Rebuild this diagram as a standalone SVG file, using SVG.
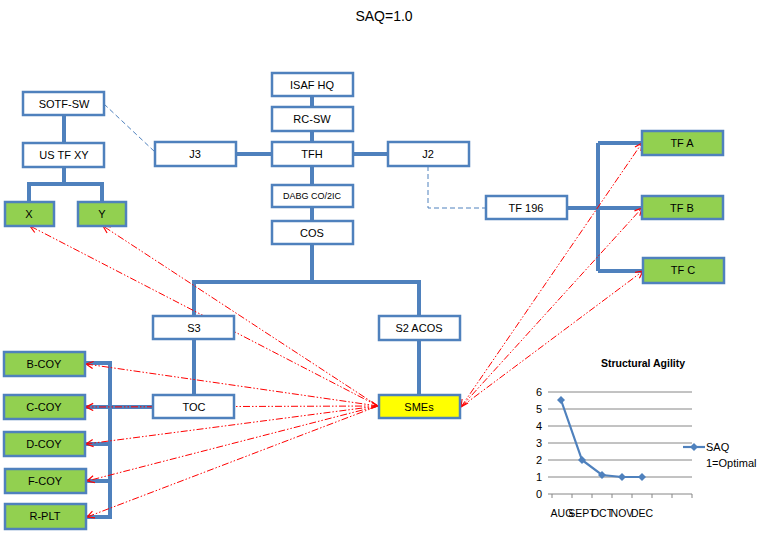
<svg xmlns="http://www.w3.org/2000/svg" width="769" height="534" viewBox="0 0 769 534">
<defs>
<marker id="ah" viewBox="0 0 10 10" refX="9" refY="5" markerWidth="9" markerHeight="9" orient="auto-start-reverse" markerUnits="userSpaceOnUse">
<path d="M1,1 L9,5 L1,9" fill="none" stroke="#FF0000" stroke-width="1.3"/>
</marker>
<marker id="dm" viewBox="0 0 10 10" refX="5" refY="5" markerWidth="8" markerHeight="8" markerUnits="userSpaceOnUse">
<path d="M5,0 L10,5 L5,10 L0,5 Z" fill="#4F81BD"/>
</marker>
<style>
.b{fill:#FFFFFF;stroke:#4F81BD;stroke-width:2.5}
.g{fill:#92D050;stroke:#4F81BD;stroke-width:2.5}
.y{fill:#FFFF00;stroke:#4F81BD;stroke-width:2.5}
.t{font-family:"Liberation Sans",Arial,sans-serif;font-size:11px;fill:#000;text-anchor:middle}
.s{font-size:9px}
.c{fill:none;stroke:#4F81BD;stroke-width:4}
.d{fill:none;stroke:#4F81BD;stroke-width:1;stroke-dasharray:5 3}
.r{fill:none;stroke:#FF0000;stroke-width:1;stroke-dasharray:7 2 1.5 2 1.5 2}
.grid{stroke:#868686;stroke-width:1}
.ax{font-family:"Liberation Sans",Arial,sans-serif;font-size:11px;fill:#000}
</style>
</defs>
<rect width="769" height="534" fill="#FFFFFF"/>
<text x="384" y="21" class="t" style="font-size:14px">SAQ=1.0</text>

<g id="connectors">
<path class="c" d="M64,115 V143"/>
<path class="c" d="M64,167 V184 M29,184 H102 M29,182 V202 M102,182 V202"/>
<path class="d" d="M104,104 L155,152"/>
<path class="c" d="M312,96 V107 M312,131 V142 M312,166 V185 M312,207 V221 M312,244 V282"/>
<path class="c" d="M236,154 H272 M353,154 H388"/>
<path class="d" d="M428,166 V208 H486"/>
<path class="c" d="M567,208 H642 M598,143 V271 M598,143 H642 M598,271 H643"/>
<path class="c" d="M194,282 H419 M194,280 V316 M419,280 V316 M419,340 V395"/>
<path class="c" d="M194,339 V395"/>
<path class="c" d="M85,363 H110 V517 H86 M85,407 H153 M85,444 H110 M86,481 H110"/>
<path class="r" d="M378,406 L30,226" marker-end="url(#ah)"/>
<path class="r" d="M378,406 L103,226" marker-end="url(#ah)"/>
<path class="r" d="M378,406 L86,364" marker-end="url(#ah)" marker-start="url(#ah)"/>
<path class="r" d="M378,406 L86,407" marker-end="url(#ah)"/>
<path class="r" d="M378,406 L86,444" marker-end="url(#ah)"/>
<path class="r" d="M378,406 L87,481" marker-end="url(#ah)"/>
<path class="r" d="M378,406 L87,517" marker-end="url(#ah)"/>
<path class="r" d="M461,407 L642,143" marker-end="url(#ah)" marker-start="url(#ah)"/>
<path class="r" d="M461,407 L642,208" marker-end="url(#ah)"/>
<path class="r" d="M461,407 L643,271" marker-end="url(#ah)"/>
</g>

<g id="sotf"><rect class="b" x="23" y="92" width="81" height="23"/><text class="t" x="64" y="108">SOTF-SW</text></g>
<g id="ustfxy"><rect class="b" x="23" y="143" width="81" height="24"/><text class="t" x="64" y="159">US TF XY</text></g>
<g id="x"><rect class="g" x="5" y="202" width="49" height="24"/><text class="t" x="29" y="218">X</text></g>
<g id="y"><rect class="g" x="78" y="202" width="48" height="24"/><text class="t" x="102" y="218">Y</text></g>
<g id="j3"><rect class="b" x="155" y="142" width="81" height="24"/><text class="t" x="195" y="158">J3</text></g>
<g id="isaf"><rect class="b" x="272" y="73" width="81" height="23"/><text class="t" x="312" y="89">ISAF HQ</text></g>
<g id="rcsw"><rect class="b" x="272" y="107" width="81" height="24"/><text class="t" x="312" y="123">RC-SW</text></g>
<g id="tfh"><rect class="b" x="272" y="142" width="81" height="24"/><text class="t" x="312" y="158">TFH</text></g>
<g id="dabg"><rect class="b" x="272" y="185" width="81" height="22"/><text class="t s" x="312" y="199">DABG CO/2IC</text></g>
<g id="cos"><rect class="b" x="272" y="221" width="81" height="23"/><text class="t" x="312" y="237">COS</text></g>
<g id="j2"><rect class="b" x="388" y="142" width="81" height="24"/><text class="t" x="428" y="158">J2</text></g>
<g id="tf196"><rect class="b" x="486" y="196" width="81" height="23"/><text class="t" x="526" y="212">TF 196</text></g>
<g id="tfa"><rect class="g" x="642" y="131" width="81" height="24"/><text class="t" x="682" y="147">TF A</text></g>
<g id="tfb"><rect class="g" x="642" y="196" width="81" height="23"/><text class="t" x="682" y="212">TF B</text></g>
<g id="tfc"><rect class="g" x="643" y="258" width="81" height="25"/><text class="t" x="683" y="274">TF C</text></g>
<g id="s3"><rect class="b" x="153" y="316" width="81" height="23"/><text class="t" x="194" y="332">S3</text></g>
<g id="s2acos"><rect class="b" x="379" y="316" width="81" height="24"/><text class="t" x="419" y="332">S2 ACOS</text></g>
<g id="toc"><rect class="b" x="153" y="395" width="81" height="23"/><text class="t" x="194" y="411">TOC</text></g>
<g id="smes"><rect class="y" x="379" y="395" width="81" height="23"/><text class="t" x="419" y="411">SMEs</text></g>
<g id="bcoy"><rect class="g" x="4" y="352" width="81" height="24"/><text class="t" x="44" y="368">B-COY</text></g>
<g id="ccoy"><rect class="g" x="4" y="395" width="81" height="24"/><text class="t" x="44" y="411">C-COY</text></g>
<g id="dcoy"><rect class="g" x="4" y="432" width="81" height="24"/><text class="t" x="44" y="448">D-COY</text></g>
<g id="fcoy"><rect class="g" x="5" y="469" width="81" height="24"/><text class="t" x="45" y="485">F-COY</text></g>
<g id="rplt"><rect class="g" x="5" y="504" width="81" height="25"/><text class="t" x="45" y="520">R-PLT</text></g>

<g id="chart">
<text x="643" y="367" class="t" style="font-weight:bold;font-size:10.5px">Structural Agility</text>
<path class="grid" d="M548,392 H692 M548,409 H692 M548,426 H692 M548,443 H692 M548,460 H692 M548,477 H692 M548,494 H692"/>
<path class="grid" d="M552,494 V498 M572,494 V498 M592,494 V498 M612,494 V498 M632,494 V498 M652,494 V498 M672,494 V498 M692,494 V498"/>
<g class="ax" text-anchor="end">
<text x="542" y="396">6</text><text x="542" y="413">5</text><text x="542" y="430">4</text><text x="542" y="447">3</text><text x="542" y="464">2</text><text x="542" y="481">1</text><text x="542" y="498">0</text>
</g>
<g class="ax" text-anchor="middle" style="font-size:10.5px">
<text x="562" y="517">AUG</text><text x="582" y="517">SEPT</text><text x="602" y="517">OCT</text><text x="622" y="517">NOV</text><text x="642" y="517">DEC</text>
</g>
<polyline points="561,400 582,460 602,475 622,477 642,477" fill="none" stroke="#4F81BD" stroke-width="2.2" marker-start="url(#dm)" marker-mid="url(#dm)" marker-end="url(#dm)"/>
<line x1="683" y1="447" x2="705" y2="447" stroke="#4F81BD" stroke-width="2.2"/>
<path d="M694,443 L698,447 L694,451 L690,447 Z" fill="#4F81BD"/>
<text class="ax" x="706" y="451">SAQ</text>
<text class="ax" x="706" y="467">1=Optimal</text>
</g>
</svg>
